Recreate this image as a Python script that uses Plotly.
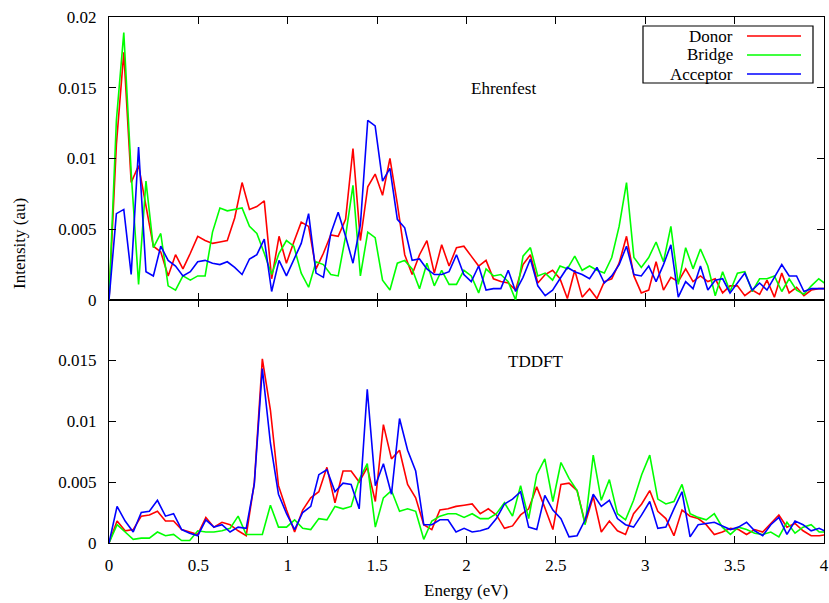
import plotly.graph_objects as go

# ---------------- data ----------------
E_STEP_TOP = 0.04136   # eV spacing, Ehrenfest spectra
E_STEP_BOT = 0.04515   # eV spacing, TDDFT spectra

donor_top = [0, 0.011, 0.0175, 0.0083, 0.0095, 0.0066, 0.0038, 0.0034, 0.0017, 0.0032,
             0.0022, 0.0033, 0.0045, 0.0042, 0.0040, 0.0041, 0.0042, 0.0058, 0.0083, 0.0064,
             0.0066, 0.0070, 0.0015, 0.0045, 0.0026, 0.0041, 0.0055, 0.0052, 0.0022, 0.0033,
             0.0046, 0.0045, 0.0057, 0.0107, 0.0042, 0.0080, 0.0089, 0.0074, 0.0100, 0.0068,
             0.0032, 0.0018, 0.0032, 0.0042, 0.0019, 0.0039, 0.0024, 0.0037, 0.0038, 0.0031,
             0.0024, 0.0028, 0.0015, 0.0013, 0.0012, 0.0007, 0.0025, 0.0032, 0.0012, 0.0018,
             0.0021, 0.0015, 0.0001, 0.0021, 0.0002, 0.0008, 0.0001, 0.0013, 0.0015, 0.0026,
             0.0045, 0.0017, 0.0005, 0.0007, 0.0027, 0.0007, 0.0016, 0.0013, 0.0022, 0.0013,
             0.0017, 0.0013, 0.0015, 0.0005, 0.0010, 0.0010, 0.0003, 0.0007, 0.0004, 0.0014,
             0.0002, 0.0019, 0.0005, 0.0009, 0.0003, 0.0007, 0.0008, 0.0008]

bridge_top = [0, 0.0127, 0.0189, 0.009, 0.0011, 0.0084, 0.0037, 0.0047, 0.0010, 0.0007,
              0.0017, 0.0014, 0.0017, 0.0017, 0.0048, 0.0065, 0.0063, 0.0064, 0.0065, 0.0052,
              0.0047, 0.0033, 0.0018, 0.0033, 0.0042, 0.0038, 0.0019, 0.0009, 0.0027, 0.0025,
              0.0018, 0.0017, 0.0045, 0.0081, 0.0017, 0.0048, 0.0044, 0.0014, 0.0007, 0.0026,
              0.0028, 0.0022, 0.0008, 0.0026, 0.0010, 0.0021, 0.0011, 0.0011, 0.0021, 0.0017,
              0.0005, 0.0022, 0.0017, 0.0018, 0.0013, 0.0000, 0.0031, 0.0037, 0.0017, 0.0019,
              0.0014, 0.0024, 0.0022, 0.0031, 0.0021, 0.0024, 0.0021, 0.0019, 0.0030, 0.0052,
              0.0083, 0.0030, 0.0023, 0.0030, 0.0041, 0.0027, 0.0052, 0.0011, 0.0037, 0.0022,
              0.0036, 0.0024, 0.0003, 0.0020, 0.0006, 0.0019, 0.0020, 0.0006, 0.0015, 0.0015,
              0.0017, 0.0006, 0.0015, 0.0007, 0.0004, 0.0010, 0.0015, 0.0011]

acceptor_top = [0, 0.0061, 0.0064, 0.0018, 0.0108, 0.0020, 0.0017, 0.0038, 0.0028, 0.0024,
                0.0017, 0.0020, 0.0027, 0.0028, 0.0026, 0.0025, 0.0027, 0.0023, 0.0018, 0.0029,
                0.0032, 0.0043, 0.0006, 0.0028, 0.0017, 0.0029, 0.0040, 0.0061, 0.0019, 0.0016,
                0.0047, 0.0062, 0.0045, 0.0026, 0.0053, 0.0127, 0.0123, 0.0084, 0.0093, 0.0057,
                0.0051, 0.0028, 0.0029, 0.0022, 0.0018, 0.0018, 0.0020, 0.0032, 0.0018, 0.0013,
                0.0024, 0.0007, 0.0008, 0.0008, 0.0021, 0.0006, 0.0016, 0.0029, 0.0010, 0.0003,
                0.0007, 0.0015, 0.0023, 0.0020, 0.0018, 0.0015, 0.0023, 0.0012, 0.0017, 0.0025,
                0.0038, 0.0018, 0.0017, 0.0024, 0.0013, 0.0025, 0.0039, 0.0002, 0.0013, 0.0008,
                0.0024, 0.0007, 0.0014, 0.0015, 0.0005, 0.0012, 0.0019, 0.0007, 0.0012, 0.0007,
                0.0016, 0.0025, 0.0017, 0.0017, 0.0006, 0.0008, 0.0008, 0.0008]

donor_bot = [0, 0.0018, 0.0010, 0.0011, 0.0022, 0.0023, 0.0026, 0.0018, 0.0018, 0.0011,
             0.0009, 0.0007, 0.0021, 0.0013, 0.0017, 0.0015, 0.0010, 0.0006, 0.0049, 0.0151,
             0.0109, 0.0047, 0.0027, 0.0009, 0.0027, 0.0037, 0.0042, 0.0062, 0.0033, 0.0059,
             0.0059, 0.0050, 0.0062, 0.0034, 0.0097, 0.0069, 0.0076, 0.0048, 0.0037, 0.0015,
             0.0011, 0.0027, 0.0028, 0.0030, 0.0031, 0.0032, 0.0024, 0.0028, 0.0023, 0.0012,
             0.0014, 0.0023, 0.0028, 0.0046, 0.0029, 0.0011, 0.0048, 0.0049, 0.0043, 0.0016,
             0.0038, 0.0009, 0.0018, 0.0010, 0.0007, 0.0024, 0.0032, 0.0043, 0.0026, 0.0020,
             0.0006, 0.0027, 0.0022, 0.0020, 0.0015, 0.0007, 0.0009, 0.0012, 0.0011, 0.0007,
             0.0011, 0.0009, 0.0016, 0.0023, 0.0013, 0.0016, 0.0010, 0.0006, 0.0006, 0.0007]

bridge_bot = [0, 0.0015, 0.0009, 0.0003, 0.0004, 0.0004, 0.0009, 0.0006, 0.0007, 0.0002,
              0.0002, 0.0010, 0.0009, 0.0009, 0.0010, 0.0012, 0.0022, 0.0007, 0.0007, 0.0007,
              0.0031, 0.0013, 0.0013, 0.0019, 0.0012, 0.0011, 0.0020, 0.0019, 0.0030, 0.0028,
              0.0030, 0.0052, 0.0065, 0.0013, 0.0037, 0.0043, 0.0026, 0.0028, 0.0026, 0.0003,
              0.0018, 0.0022, 0.0024, 0.0024, 0.0021, 0.0024, 0.0020, 0.0020, 0.0024, 0.0033,
              0.0022, 0.0047, 0.0020, 0.0056, 0.0069, 0.0034, 0.0066, 0.0053, 0.0043, 0.0015,
              0.0072, 0.0035, 0.0052, 0.0024, 0.0019, 0.0035, 0.0056, 0.0072, 0.0036, 0.0032,
              0.0034, 0.0048, 0.0024, 0.0021, 0.0019, 0.0024, 0.0013, 0.0007, 0.0013, 0.0011,
              0.0008, 0.0007, 0.0009, 0.0005, 0.0017, 0.0008, 0.0013, 0.0015, 0.0009, 0.0009]

acceptor_bot = [0, 0.0030, 0.0018, 0.0009, 0.0025, 0.0026, 0.0035, 0.0022, 0.0024, 0.0011,
                0.0008, 0.0006, 0.0019, 0.0013, 0.0015, 0.0009, 0.0013, 0.0012, 0.0048, 0.0143,
                0.0082, 0.0040, 0.0024, 0.0011, 0.0025, 0.0030, 0.0056, 0.0060, 0.0042, 0.0049,
                0.0048, 0.0028, 0.0126, 0.0047, 0.0065, 0.0040, 0.0102, 0.0076, 0.0059, 0.0015,
                0.0015, 0.0019, 0.0019, 0.0009, 0.0012, 0.0009, 0.0010, 0.0012, 0.0020, 0.0032,
                0.0036, 0.0042, 0.0013, 0.0011, 0.0039, 0.0027, 0.0020, 0.0005, 0.0006, 0.0019,
                0.0040, 0.0030, 0.0035, 0.0020, 0.0015, 0.0013, 0.0023, 0.0034, 0.0012, 0.0013,
                0.0028, 0.0042, 0.0005, 0.0015, 0.0016, 0.0017, 0.0014, 0.0011, 0.0013, 0.0017,
                0.0010, 0.0006, 0.0015, 0.0021, 0.0007, 0.0018, 0.0015, 0.0010, 0.0012, 0.0009]

energy_top = [round(i * E_STEP_TOP, 5) for i in range(len(donor_top))]
energy_bot = [round(i * E_STEP_BOT, 5) for i in range(len(donor_bot))]

series_names = ["Donor", "Bridge", "Acceptor"]
series_colors = ["#ff0000", "#00ff00", "#0000ff"]

x_ticks = [0, 0.5, 1, 1.5, 2, 2.5, 3, 3.5, 4]
x_ticktext = ["0", "0.5", "1", "1.5", "2", "2.5", "3", "3.5", "4"]
y_ticks_top = [0, 0.005, 0.01, 0.015, 0.02]
y_ticktext_top = ["0", "0.005", "0.01", "0.015", "0.02"]
y_ticks_bot = [0, 0.005, 0.01, 0.015]
y_ticktext_bot = ["0", "0.005", "0.01", "0.015"]

# ---------------- figure ----------------
FONT = "Liberation Serif"
FS = 17
fig = go.Figure()

for name, col, ys in zip(series_names, series_colors, [donor_top, bridge_top, acceptor_top]):
    fig.add_trace(go.Scatter(x=energy_top, y=ys, mode="lines", name=name,
                             line=dict(color=col, width=1.6), xaxis="x2", yaxis="y2",
                             showlegend=False))
for name, col, ys in zip(series_names, series_colors, [donor_bot, bridge_bot, acceptor_bot]):
    fig.add_trace(go.Scatter(x=energy_bot, y=ys, mode="lines", name=name,
                             line=dict(color=col, width=1.6), xaxis="x", yaxis="y",
                             showlegend=False))

axis_common = dict(showline=True, linecolor="black", linewidth=1.2, mirror="ticks",
                   ticks="inside", ticklen=7, tickwidth=1.2, tickcolor="black",
                   showgrid=False, zeroline=False, automargin=False,
                   tickfont=dict(family=FONT, size=FS, color="black"))

SPLIT = 0.462
fig.update_layout(
    width=829, height=603,
    margin=dict(l=109, r=5, t=17, b=60, autoexpand=False),
    font=dict(family=FONT, size=FS, color="black"),
    plot_bgcolor="white", paper_bgcolor="white",
    xaxis=dict(domain=[0, 1], anchor="y", range=[0, 4], tickvals=x_ticks,
               ticktext=x_ticktext, ticklabelstandoff=6, **axis_common),
    xaxis2=dict(domain=[0, 1], anchor="y2", range=[0, 4], tickvals=x_ticks,
                showticklabels=False, matches="x", **axis_common),
    yaxis=dict(domain=[0, SPLIT], anchor="x", range=[0, 0.01992], tickvals=y_ticks_bot,
               ticktext=y_ticktext_bot, ticklabelstandoff=8, **axis_common),
    yaxis2=dict(domain=[SPLIT, 1], anchor="x2", range=[0, 0.02], tickvals=y_ticks_top,
                ticktext=y_ticktext_top, ticklabelstandoff=8, **axis_common),
    showlegend=False,
)

def px_to_paper(px, py):
    return (px - 109) / 715.0, (543 - py) / 526.0

annotations = []
# panel labels
for text, (px, py) in [("Ehrenfest", (503, 88)), ("TDDFT", (535, 361))]:
    ax, ay = px_to_paper(px, py)
    annotations.append(dict(text=text, x=ax, y=ay, xref="paper", yref="paper",
                            showarrow=False, xanchor="center", yanchor="middle",
                            font=dict(family=FONT, size=FS, color="black")))
# axis titles
ax, ay = px_to_paper(466, 590)
annotations.append(dict(text="Energy (eV)", x=ax, y=ay, xref="paper", yref="paper",
                        showarrow=False, xanchor="center", yanchor="middle",
                        font=dict(family=FONT, size=FS, color="black")))
ax, ay = px_to_paper(19, 243)
annotations.append(dict(text="Intensity (au)", x=ax, y=ay, xref="paper", yref="paper",
                        showarrow=False, xanchor="center", yanchor="middle", textangle=-90,
                        font=dict(family=FONT, size=FS, color="black")))

# legend (gnuplot style: text right-aligned, sample line to the right)
shapes = []
bx0, by0 = px_to_paper(643, 83)
bx1, by1 = px_to_paper(813, 26)
shapes.append(dict(type="rect", xref="paper", yref="paper", x0=bx0, y0=by0, x1=bx1, y1=by1,
                   line=dict(color="black", width=1.2), fillcolor="rgba(0,0,0,0)"))
for k, (name, col) in enumerate(zip(series_names, series_colors)):
    py = 36 + 19 * k
    tx, ty = px_to_paper(735, py)
    annotations.append(dict(text=name, x=tx, y=ty, xref="paper", yref="paper",
                            showarrow=False, xanchor="right", yanchor="middle",
                            font=dict(family=FONT, size=FS, color="black")))
    lx0, ly = px_to_paper(747, py)
    lx1, _ = px_to_paper(801, py)
    shapes.append(dict(type="line", xref="paper", yref="paper", x0=lx0, x1=lx1, y0=ly, y1=ly,
                       line=dict(color=col, width=1.6)))

fig.update_layout(annotations=annotations, shapes=shapes)
fig.write_html("out.html")
